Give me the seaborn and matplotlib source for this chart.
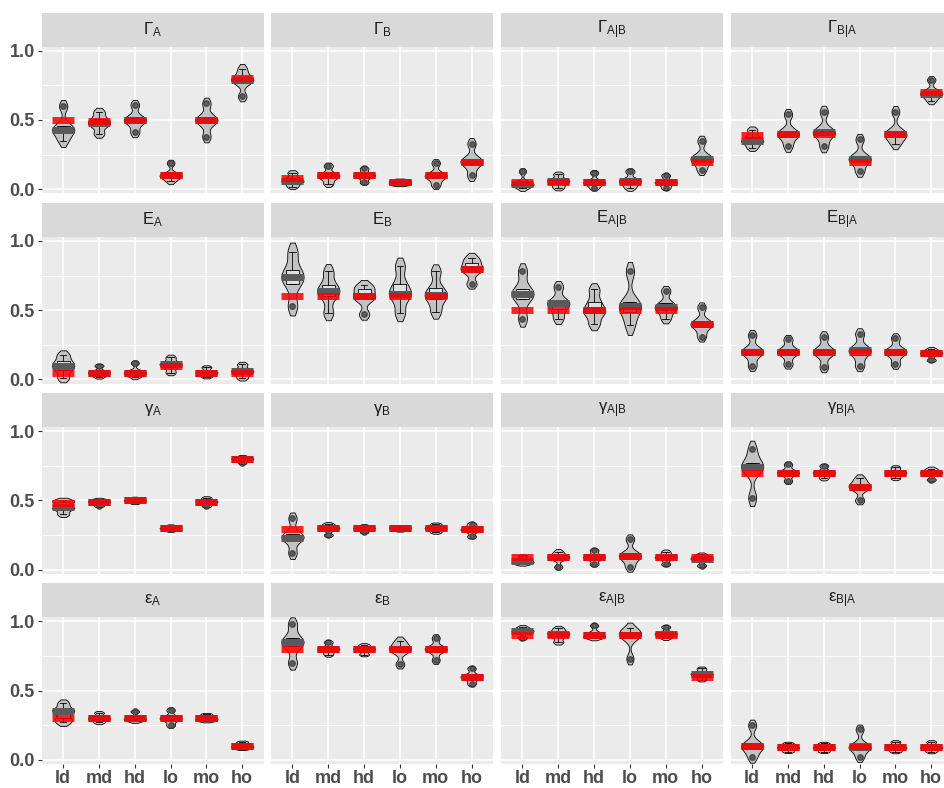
import numpy as np
import pandas as pd
import matplotlib
matplotlib.use('Agg')
import matplotlib.pyplot as plt
import seaborn as sns

# settings on the x axis
cats = ['ld', 'md', 'hd', 'lo', 'mo', 'ho']

# panel order (row by row)
panels = ['GA', 'GB', 'GAB', 'GBA', 'EA', 'EB', 'EAB', 'EBA',
          'gA', 'gB', 'gAB', 'gBA', 'eA', 'eB', 'eAB', 'eBA']

labels = {
    'GA': r'$Γ_{A}$', 'GB': r'$Γ_{B}$', 'GAB': r'$Γ_{A|B}$', 'GBA': r'$Γ_{B|A}$',
    'EA': r'$E_{A}$', 'EB': r'$E_{B}$', 'EAB': r'$E_{A|B}$', 'EBA': r'$E_{B|A}$',
    'gA': r'$γ_{A}$', 'gB': r'$γ_{B}$', 'gAB': r'$γ_{A|B}$', 'gBA': r'$γ_{B|A}$',
    'eA': r'$ε_{A}$', 'eB': r'$ε_{B}$', 'eAB': r'$ε_{A|B}$', 'eBA': r'$ε_{B|A}$',
}

# true parameter values (red bars)
true_val = {
    'GA':  [0.50, 0.49, 0.50, 0.10, 0.50, 0.80],
    'GB':  [0.08, 0.10, 0.10, 0.05, 0.10, 0.20],
    'GAB': [0.05, 0.05, 0.05, 0.05, 0.05, 0.20],
    'GBA': [0.39, 0.40, 0.40, 0.20, 0.40, 0.70],
    'EA':  [0.05, 0.05, 0.05, 0.10, 0.05, 0.05],
    'EB':  [0.60, 0.60, 0.60, 0.60, 0.60, 0.80],
    'EAB': [0.50, 0.50, 0.50, 0.50, 0.50, 0.40],
    'EBA': [0.20, 0.20, 0.20, 0.20, 0.20, 0.19],
    'gA':  [0.48, 0.49, 0.50, 0.30, 0.49, 0.80],
    'gB':  [0.29, 0.30, 0.30, 0.30, 0.30, 0.29],
    'gAB': [0.09, 0.09, 0.09, 0.10, 0.09, 0.09],
    'gBA': [0.70, 0.70, 0.70, 0.60, 0.70, 0.70],
    'eA':  [0.30, 0.30, 0.30, 0.30, 0.30, 0.10],
    'eB':  [0.80, 0.80, 0.80, 0.80, 0.80, 0.60],
    'eAB': [0.90, 0.90, 0.90, 0.90, 0.90, 0.60],
    'eBA': [0.10, 0.09, 0.09, 0.10, 0.09, 0.09],
}

# estimates: median (grey bar), quartiles and range
est_med = {
    'GA':  [0.43, 0.48, 0.50, 0.10, 0.50, 0.79],
    'GB':  [0.06, 0.10, 0.10, 0.05, 0.10, 0.20],
    'GAB': [0.04, 0.06, 0.05, 0.06, 0.05, 0.22],
    'GBA': [0.35, 0.40, 0.41, 0.22, 0.40, 0.69],
    'EA':  [0.10, 0.05, 0.05, 0.11, 0.05, 0.06],
    'EB':  [0.74, 0.64, 0.60, 0.62, 0.61, 0.80],
    'EAB': [0.62, 0.55, 0.50, 0.53, 0.52, 0.40],
    'EBA': [0.20, 0.20, 0.20, 0.21, 0.20, 0.19],
    'gA':  [0.45, 0.49, 0.50, 0.30, 0.49, 0.80],
    'gB':  [0.23, 0.30, 0.30, 0.30, 0.30, 0.29],
    'gAB': [0.06, 0.09, 0.09, 0.10, 0.09, 0.08],
    'gBA': [0.74, 0.70, 0.70, 0.60, 0.70, 0.70],
    'eA':  [0.35, 0.30, 0.30, 0.30, 0.30, 0.10],
    'eB':  [0.85, 0.80, 0.80, 0.80, 0.80, 0.60],
    'eAB': [0.93, 0.91, 0.90, 0.90, 0.91, 0.62],
    'eBA': [0.10, 0.09, 0.09, 0.09, 0.09, 0.09],
}
est_q1 = {
    'GA':  [0.41, 0.46, 0.48, 0.09, 0.48, 0.77],
    'GB':  [0.05, 0.08, 0.09, 0.04, 0.08, 0.18],
    'GAB': [0.03, 0.04, 0.04, 0.04, 0.04, 0.20],
    'GBA': [0.34, 0.38, 0.39, 0.20, 0.38, 0.68],
    'EA':  [0.07, 0.04, 0.04, 0.09, 0.04, 0.04],
    'EB':  [0.69, 0.60, 0.58, 0.60, 0.58, 0.78],
    'EAB': [0.58, 0.51, 0.48, 0.49, 0.50, 0.38],
    'EBA': [0.18, 0.18, 0.18, 0.18, 0.18, 0.18],
    'gA':  [0.44, 0.485, 0.495, 0.295, 0.485, 0.795],
    'gB':  [0.22, 0.29, 0.295, 0.295, 0.29, 0.28],
    'gAB': [0.05, 0.08, 0.08, 0.08, 0.08, 0.07],
    'gBA': [0.72, 0.69, 0.69, 0.58, 0.69, 0.69],
    'eA':  [0.30, 0.29, 0.29, 0.29, 0.29, 0.09],
    'eB':  [0.82, 0.79, 0.79, 0.78, 0.79, 0.59],
    'eAB': [0.92, 0.89, 0.89, 0.88, 0.90, 0.61],
    'eBA': [0.08, 0.08, 0.08, 0.08, 0.08, 0.08],
}
est_q3 = {
    'GA':  [0.46, 0.51, 0.52, 0.11, 0.52, 0.81],
    'GB':  [0.08, 0.11, 0.11, 0.06, 0.11, 0.22],
    'GAB': [0.05, 0.07, 0.06, 0.07, 0.06, 0.24],
    'GBA': [0.38, 0.42, 0.43, 0.24, 0.42, 0.71],
    'EA':  [0.13, 0.06, 0.06, 0.12, 0.06, 0.07],
    'EB':  [0.79, 0.68, 0.65, 0.69, 0.66, 0.84],
    'EAB': [0.65, 0.57, 0.56, 0.56, 0.55, 0.42],
    'EBA': [0.22, 0.22, 0.22, 0.23, 0.22, 0.20],
    'gA':  [0.49, 0.50, 0.505, 0.305, 0.50, 0.805],
    'gB':  [0.26, 0.31, 0.305, 0.305, 0.31, 0.30],
    'gAB': [0.07, 0.10, 0.10, 0.12, 0.10, 0.09],
    'gBA': [0.77, 0.71, 0.71, 0.62, 0.71, 0.71],
    'eA':  [0.36, 0.31, 0.31, 0.31, 0.31, 0.11],
    'eB':  [0.88, 0.81, 0.81, 0.82, 0.81, 0.61],
    'eAB': [0.94, 0.92, 0.92, 0.92, 0.92, 0.63],
    'eBA': [0.12, 0.10, 0.10, 0.11, 0.10, 0.10],
}
est_min = {
    'GA':  [0.35, 0.40, 0.41, 0.06, 0.38, 0.67],
    'GB':  [0.02, 0.04, 0.05, 0.03, 0.03, 0.10],
    'GAB': [0.01, 0.01, 0.01, 0.01, 0.01, 0.14],
    'GBA': [0.30, 0.31, 0.31, 0.13, 0.33, 0.64],
    'EA':  [0.01, 0.02, 0.02, 0.05, 0.02, 0.01],
    'EB':  [0.53, 0.48, 0.47, 0.48, 0.49, 0.69],
    'EAB': [0.44, 0.44, 0.40, 0.39, 0.44, 0.31],
    'EBA': [0.10, 0.11, 0.09, 0.10, 0.11, 0.14],
    'gA':  [0.40, 0.46, 0.48, 0.28, 0.46, 0.77],
    'gB':  [0.12, 0.25, 0.27, 0.28, 0.27, 0.24],
    'gAB': [0.04, 0.02, 0.04, 0.02, 0.04, 0.03],
    'gBA': [0.52, 0.64, 0.66, 0.50, 0.66, 0.65],
    'eA':  [0.27, 0.27, 0.28, 0.25, 0.28, 0.08],
    'eB':  [0.70, 0.76, 0.76, 0.69, 0.72, 0.55],
    'eAB': [0.88, 0.85, 0.88, 0.73, 0.88, 0.58],
    'eBA': [0.02, 0.06, 0.06, 0.02, 0.06, 0.06],
}
est_max = {
    'GA':  [0.60, 0.56, 0.61, 0.19, 0.62, 0.87],
    'GB':  [0.12, 0.17, 0.15, 0.07, 0.19, 0.33],
    'GAB': [0.13, 0.11, 0.12, 0.13, 0.10, 0.35],
    'GBA': [0.43, 0.54, 0.56, 0.36, 0.56, 0.79],
    'EA':  [0.18, 0.10, 0.12, 0.16, 0.09, 0.11],
    'EB':  [0.92, 0.78, 0.68, 0.82, 0.78, 0.88],
    'EAB': [0.78, 0.67, 0.65, 0.78, 0.64, 0.52],
    'EBA': [0.32, 0.29, 0.31, 0.33, 0.30, 0.22],
    'gA':  [0.50, 0.51, 0.52, 0.32, 0.52, 0.82],
    'gB':  [0.37, 0.33, 0.32, 0.31, 0.33, 0.33],
    'gAB': [0.10, 0.13, 0.14, 0.22, 0.13, 0.11],
    'gBA': [0.87, 0.76, 0.75, 0.66, 0.74, 0.73],
    'eA':  [0.41, 0.34, 0.35, 0.36, 0.33, 0.13],
    'eB':  [0.98, 0.85, 0.83, 0.86, 0.88, 0.66],
    'eAB': [0.96, 0.95, 0.97, 0.95, 0.96, 0.66],
    'eBA': [0.25, 0.12, 0.12, 0.22, 0.13, 0.13],
}

rows = []
for p in panels:
    for i, c in enumerate(cats):
        for src in (est_min, est_q1, est_med, est_q3, est_max):
            rows.append((p, c, src[p][i]))
sims = pd.DataFrame(rows, columns=['panel', 'setting', 'value'])

trows = []
for p in panels:
    for i, c in enumerate(cats):
        trows.append((p, c, true_val[p][i], est_med[p][i]))
truth = pd.DataFrame(trows, columns=['panel', 'setting', 'truth', 'est'])

plt.rcParams['font.family'] = ['Liberation Sans', 'DejaVu Sans']
plt.rcParams['mathtext.default'] = 'regular'

W, H = 945, 788
fig = plt.figure(figsize=(W / 100, H / 100), dpi=100)

col_left = [41.7, 271.0, 501.0, 730.7]
strip_top = [12.7, 202.9, 393.1, 583.3]
pw, ph, sh = 222, 146.6, 34

for k, p in enumerate(panels):
    r, c = divmod(k, 4)
    ptop = strip_top[r] + sh
    ax = fig.add_axes([col_left[c] / W, 1 - (ptop + ph) / H, pw / W, ph / H])
    ax.set_facecolor('#EBEBEB')
    d = sims[sims.panel == p]
    t = truth[truth.panel == p]

    sns.violinplot(data=d, x='setting', y='value', order=cats, cut=1.2,
                   density_norm='width', width=0.62, inner=None, color='#C2C2C2',
                   saturation=1, linecolor='black', linewidth=0.6, bw_adjust=0.55, ax=ax)
    sns.boxplot(data=d, x='setting', y='value', order=cats, width=0.36,
                color='white', saturation=1, linecolor='black', linewidth=0.6,
                boxprops=dict(facecolor=(1, 1, 1, 0.5)),
                flierprops=dict(marker='o', markersize=4, markerfacecolor='#333333',
                                markeredgecolor='#333333', alpha=0.7), ax=ax)
    sns.pointplot(data=t, x='setting', y='est', order=cats, color='#5A5A5A',
                  marker='_', linestyle='none', errorbar=None, markersize=16,
                  markeredgewidth=5, zorder=5, ax=ax)
    sns.pointplot(data=t, x='setting', y='truth', order=cats, color='#FF0000',
                  marker='_', linestyle='none', errorbar=None, markersize=16,
                  markeredgewidth=5, alpha=0.85, zorder=6, ax=ax)

    ax.set_xlim(-0.6, 5.6)
    ax.set_ylim(-0.029, 1.029)
    ax.set_yticks([0, 0.5, 1.0])
    ax.set_yticks([0.25, 0.75], minor=True)
    ax.set_axisbelow(True)
    ax.grid(True, which='major', color='white', linewidth=1.1)
    ax.grid(True, which='minor', axis='y', color='white', linewidth=0.55)
    ax.tick_params(which='minor', length=0)
    for s in ax.spines.values():
        s.set_visible(False)
    ax.set_xlabel('')
    ax.set_ylabel('')

    if c == 0:
        ax.set_yticklabels(['0.0', '0.5', '1.0'])
        ax.tick_params(axis='y', length=3, width=0.8, color='#333333', pad=2,
                       labelsize=13, labelcolor='#4D4D4D')
        for lab in ax.get_yticklabels():
            lab.set_fontweight('bold')
    else:
        ax.tick_params(axis='y', length=0, labelleft=False)
    if r == 3:
        ax.tick_params(axis='x', length=3, width=0.8, color='#333333', pad=1.5,
                       labelsize=13, labelcolor='#4D4D4D')
        for lab in ax.get_xticklabels():
            lab.set_fontweight('bold')
    else:
        ax.tick_params(axis='x', length=0, labelbottom=False)

    # facet strip
    sax = fig.add_axes([col_left[c] / W, 1 - strip_top[r] / H - sh / H, pw / W, sh / H])
    sax.set_facecolor('#D9D9D9')
    sax.set_xticks([])
    sax.set_yticks([])
    for s in sax.spines.values():
        s.set_visible(False)
    sax.text(0.5, 0.5, labels[p], ha='center', va='center', fontsize=12,
             color='#1A1A1A', transform=sax.transAxes)

fig.savefig('out.png', dpi=100)
